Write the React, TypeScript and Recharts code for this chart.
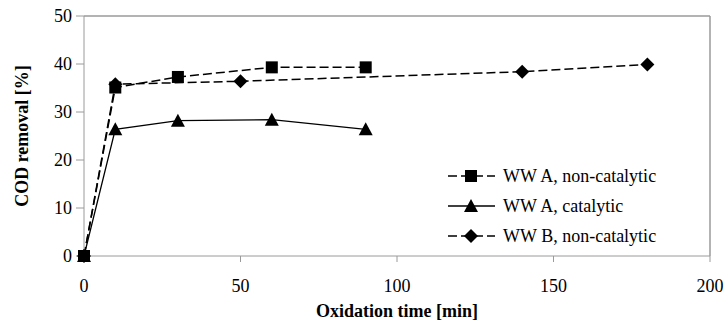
import React from 'react';
import { LineChart, Line, XAxis, YAxis, ReferenceLine } from 'recharts';

const timeA = [0, 10, 30, 60, 90];
const wwaNonCat = [0, 35.1, 37.3, 39.3, 39.3];
const wwaCat = [0, 26.4, 28.2, 28.4, 26.4];
const timeB = [0, 10, 50, 140, 180];
const wwbNonCat = [0, 35.8, 36.4, 38.4, 39.9];
const xTicks = [0, 50, 100, 150, 200];
const yTicks = [0, 10, 20, 30, 40, 50];
const seriesNames = ['WW A, non-catalytic', 'WW A, catalytic', 'WW B, non-catalytic'];

const dataA1 = timeA.map((t, i) => ({ t, v: wwaNonCat[i] }));
const dataA2 = timeA.map((t, i) => ({ t, v: wwaCat[i] }));
const dataB = timeB.map((t, i) => ({ t, v: wwbNonCat[i] }));

const FONT = 'Liberation Serif';
const GREY = '#9a9a9a';

const SquareDot = (p: any) => {
  const { cx, cy } = p;
  if (cx == null || cy == null) return null;
  return <rect x={cx - 6} y={cy - 6} width={12} height={12} fill="#000" />;
};
const TriDot = (p: any) => {
  const { cx, cy } = p;
  if (cx == null || cy == null) return null;
  return <polygon points={`${cx},${cy - 7} ${cx + 7},${cy + 6} ${cx - 7},${cy + 6}`} fill="#000" />;
};
const DiaDot = (p: any) => {
  const { cx, cy } = p;
  if (cx == null || cy == null) return null;
  return <polygon points={`${cx},${cy - 7} ${cx + 7},${cy} ${cx},${cy + 7} ${cx - 7},${cy}`} fill="#000" />;
};

const legendItems = [
  { name: seriesNames[0], dash: '9 4', Dot: SquareDot },
  { name: seriesNames[1], dash: undefined, Dot: TriDot },
  { name: seriesNames[2], dash: '9 4', Dot: DiaDot },
];

const TickX = (p: any) => (
  <text x={p.x} y={p.y} dy="0.71em" textAnchor="middle" fill="#000" style={{ fontFamily: FONT, fontSize: 18 }}>
    {p.payload.value}
  </text>
);
const TickY = (p: any) => (
  <text x={p.x} y={p.y} dy="0.355em" textAnchor="end" fill="#000" style={{ fontFamily: FONT, fontSize: 18 }}>
    {p.payload.value}
  </text>
);

export default function App() {
  return (
    <div style={{ position: 'absolute', left: 0, top: 0, width: 725, height: 320, background: '#fff', fontFamily: FONT }}>
      <LineChart width={725} height={320} margin={{ top: 16, right: 15, bottom: 0, left: 0 }} style={{ fontFamily: FONT }}>
        <XAxis
          type="number"
          dataKey="t"
          domain={[0, 200]}
          ticks={xTicks}
          height={64}
          stroke={GREY}
          tickSize={6}
          tickMargin={17}
          tick={<TickX />}
          allowDuplicatedCategory={false}
          label={{
            content: (props: any) => {
              const vb = props.viewBox;
              return (
                <text x={vb.x + vb.width / 2} y={vb.y + 61} textAnchor="middle" fill="#000" style={{ fontFamily: FONT, fontSize: 18, fontWeight: 'bold' }}>
                  Oxidation time [min]
                </text>
              );
            },
          }}
        />
        <YAxis
          type="number"
          domain={[0, 50]}
          ticks={yTicks}
          width={84}
          stroke={GREY}
          tickSize={8}
          tickMargin={4}
          tick={<TickY />}
          label={{
            content: (props: any) => {
              const vb = props.viewBox;
              const cx = vb.x + 22;
              const cy = vb.y + vb.height / 2;
              return (
                <text x={cx} y={cy} transform={`rotate(-90 ${cx} ${cy})`} textAnchor="middle" dominantBaseline="central" fill="#000" style={{ fontFamily: FONT, fontSize: 18, fontWeight: 'bold' }}>
                  COD removal [%]
                </text>
              );
            },
          }}
        />
        <ReferenceLine y={50} stroke={GREY} strokeWidth={1.5} />
        <ReferenceLine x={200} stroke={GREY} strokeWidth={1.5} />
        <Line data={dataB} dataKey="v" name={seriesNames[2]} type="linear" stroke="#000" strokeWidth={1.5} strokeDasharray="9 4" dot={<DiaDot />} isAnimationActive={false} />
        <Line data={dataA2} dataKey="v" name={seriesNames[1]} type="linear" stroke="#000" strokeWidth={1.3} dot={<TriDot />} isAnimationActive={false} />
        <Line data={dataA1} dataKey="v" name={seriesNames[0]} type="linear" stroke="#000" strokeWidth={1.5} strokeDasharray="9 4" dot={<SquareDot />} isAnimationActive={false} />
      </LineChart>
      <div style={{ position: 'absolute', left: 440, top: 161, fontFamily: FONT, fontSize: 18, color: '#000' }}>
        {legendItems.map((it) => (
          <div key={it.name} style={{ display: 'flex', alignItems: 'center', height: 30 }}>
            <svg width={55} height={30} style={{ display: 'block' }}>
              <line x1={8} y1={15} x2={55} y2={15} stroke="#000" strokeWidth={1.5} strokeDasharray={it.dash} />
              <it.Dot cx={31} cy={15} />
            </svg>
            <span style={{ marginLeft: 8, whiteSpace: 'nowrap' }}>{it.name}</span>
          </div>
        ))}
      </div>
    </div>
  );
}
